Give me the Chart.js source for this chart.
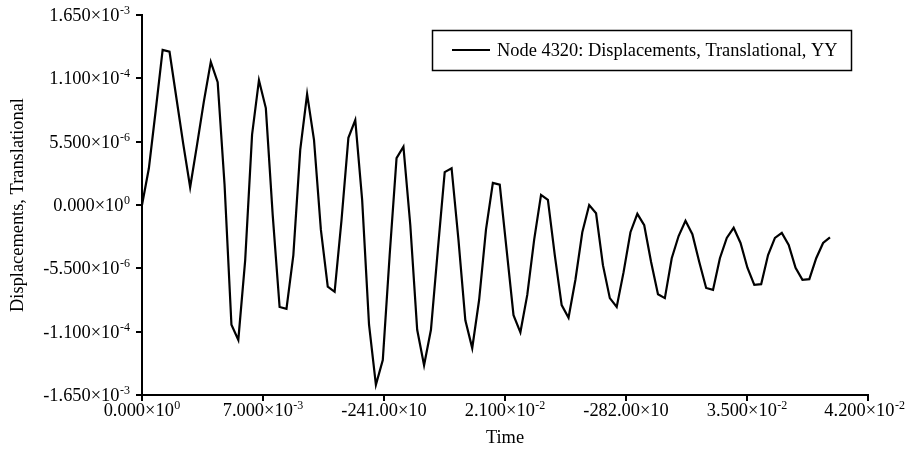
<!DOCTYPE html>
<html><head><meta charset="utf-8">
<script src="https://cdn.jsdelivr.net/npm/chart.js@4.4.1/dist/chart.umd.min.js"></script>
<style>html,body{margin:0;padding:0;background:#fff;}#wrap{width:906px;height:451px;}</style>
</head><body><div id="wrap"><canvas id="c" width="906" height="451"></canvas></div>
<script>
const seriesLabel = 'Node 4320: Displacements, Translational, YY';
const xTitle = 'Time';
const yTitle = 'Displacements, Translational';
const xTickValues = [0, 0.007, 0.014, 0.021, 0.028, 0.035, 0.042];
const xTickLabels = ['0.000×10^0', '7.000×10^-3', '-241.00×10', '2.100×10^-2', '-282.00×10', '3.500×10^-2', '4.200×10^-2'];
const yTickValues = [-3, -2, -1, 0, 1, 2, 3];
const yTickLabels = ['-1.650×10^-3', '-1.100×10^-4', '-5.500×10^-6', '0.000×10^0', '5.500×10^-6', '1.100×10^-4', '1.650×10^-3'];
const timeStep = 0.000398;
const displacement = [
  0.00, 0.58, 1.50, 2.45, 2.42, 1.69, 0.96, 0.28, 0.95, 1.64,
  2.26, 1.94, 0.32, -1.89, -2.13, -0.87, 1.11, 1.97, 1.53, -0.16,
  -1.61, -1.64, -0.79, 0.87, 1.75, 1.03, -0.39, -1.29, -1.37, -0.24,
  1.06, 1.34, 0.08, -1.89, -2.84, -2.45, -0.79, 0.74, 0.92, -0.32,
  -1.97, -2.53, -1.97, -0.71, 0.52, 0.58, -0.55, -1.82, -2.26, -1.50,
  -0.39, 0.35, 0.32, -0.71, -1.74, -2.01, -1.42, -0.55, 0.16, 0.08,
  -0.79, -1.58, -1.78, -1.18, -0.43, 0.00, -0.13, -0.95, -1.47, -1.61,
  -1.06, -0.43, -0.14, -0.32, -0.90, -1.41, -1.47, -0.84, -0.49, -0.25,
  -0.46, -0.90, -1.31, -1.34, -0.84, -0.52, -0.36, -0.60, -0.99, -1.26,
  -1.25, -0.79, -0.52, -0.44, -0.63, -0.99, -1.18, -1.17, -0.84, -0.60,
  -0.51
];

const FONT_FAMILY = '"Liberation Serif", "DejaVu Serif", serif';
const font = { family: FONT_FAMILY, size: 18.4 };
const points = displacement.map((v, i) => ({ x: i * timeStep, y: v }));

// draws "base^exp" with a raised, smaller exponent
function drawSci(ctx, label, x, baseline, align, maxRight) {
  const parts = label.split('^');
  const base = parts[0], exp = parts[1] || '';
  ctx.font = '18.4px ' + FONT_FAMILY;
  const wb = ctx.measureText(base).width;
  ctx.font = '12px ' + FONT_FAMILY;
  const we = exp ? ctx.measureText(exp).width + 0.5 : 0;
  const total = wb + we;
  let left = align === 'right' ? x - total : x - total / 2;
  if (maxRight && left + total > maxRight) left = maxRight - total;
  ctx.textAlign = 'left';
  ctx.textBaseline = 'alphabetic';
  ctx.font = '18.4px ' + FONT_FAMILY;
  ctx.fillText(base, left, baseline);
  if (exp) {
    ctx.font = '12px ' + FONT_FAMILY;
    ctx.fillText(exp, left + wb + 0.5, baseline - 7);
  }
}

const sciTicks = {
  id: 'sciTicks',
  afterDraw(chart) {
    const ctx = chart.ctx;
    ctx.save();
    ctx.fillStyle = '#000';
    const xs = chart.scales.x, ys = chart.scales.y;
    xTickValues.forEach((v, i) => {
      drawSci(ctx, xTickLabels[i], xs.getPixelForValue(v), xs.top + 21, 'center', chart.width - 1);
    });
    yTickValues.forEach((v, i) => {
      drawSci(ctx, yTickLabels[i], ys.right - 12, ys.getPixelForValue(v) + 6, 'right');
    });
    ctx.restore();
  }
};

const legendBox = {
  id: 'legendBox',
  afterDraw(chart) {
    const ctx = chart.ctx;
    ctx.save();
    ctx.fillStyle = '#fff';
    ctx.fillRect(432, 30, 419, 40);
    ctx.strokeStyle = '#000';
    ctx.lineWidth = 1.5;
    ctx.strokeRect(432.5, 30.5, 419, 40);
    ctx.lineWidth = 2;
    ctx.beginPath();
    ctx.moveTo(452, 50);
    ctx.lineTo(490, 50);
    ctx.stroke();
    ctx.font = '18.4px ' + FONT_FAMILY;
    ctx.fillStyle = '#000';
    ctx.textBaseline = 'middle';
    ctx.fillText(chart.data.datasets[0].label, 497, 51);
    ctx.restore();
  }
};

new Chart(document.getElementById('c'), {
  type: 'line',
  data: {
    datasets: [{
      label: seriesLabel,
      data: points,
      borderColor: '#000',
      borderWidth: 2.2,
      pointRadius: 0,
      tension: 0,
      fill: false
    }]
  },
  options: {
    responsive: false,
    animation: false,
    devicePixelRatio: 1,
    layout: { padding: { top: 15, right: 38, left: 0, bottom: 0 } },
    plugins: { legend: { display: false }, tooltip: { enabled: false } },
    scales: {
      x: {
        type: 'linear',
        min: 0, max: 0.042,
        afterBuildTicks: s => { s.ticks = xTickValues.map(v => ({ value: v })); },
        ticks: { display: false, autoSkip: false },
        grid: { drawOnChartArea: false, drawTicks: true, tickLength: 6, color: '#000', lineWidth: 2 },
        border: { display: true, color: '#000', width: 2 },
        title: { display: true, text: xTitle, font, color: '#000', padding: { top: 0, bottom: 2 } },
        afterFit: s => { s.height = 56; s.paddingLeft = 0; s.paddingRight = 0; }
      },
      y: {
        type: 'linear',
        min: -3, max: 3,
        afterBuildTicks: s => { s.ticks = yTickValues.map(v => ({ value: v })); },
        ticks: { display: false, autoSkip: false },
        grid: { drawOnChartArea: false, drawTicks: true, tickLength: 6, color: '#000', lineWidth: 2 },
        border: { display: true, color: '#000', width: 2 },
        title: { display: true, text: yTitle, font, color: '#000', padding: { top: 7, bottom: 0 } },
        afterFit: s => { s.width = 142; s.paddingTop = 0; s.paddingBottom = 0; }
      }
    }
  },
  plugins: [legendBox, sciTicks]
});
</script>
</body></html>
